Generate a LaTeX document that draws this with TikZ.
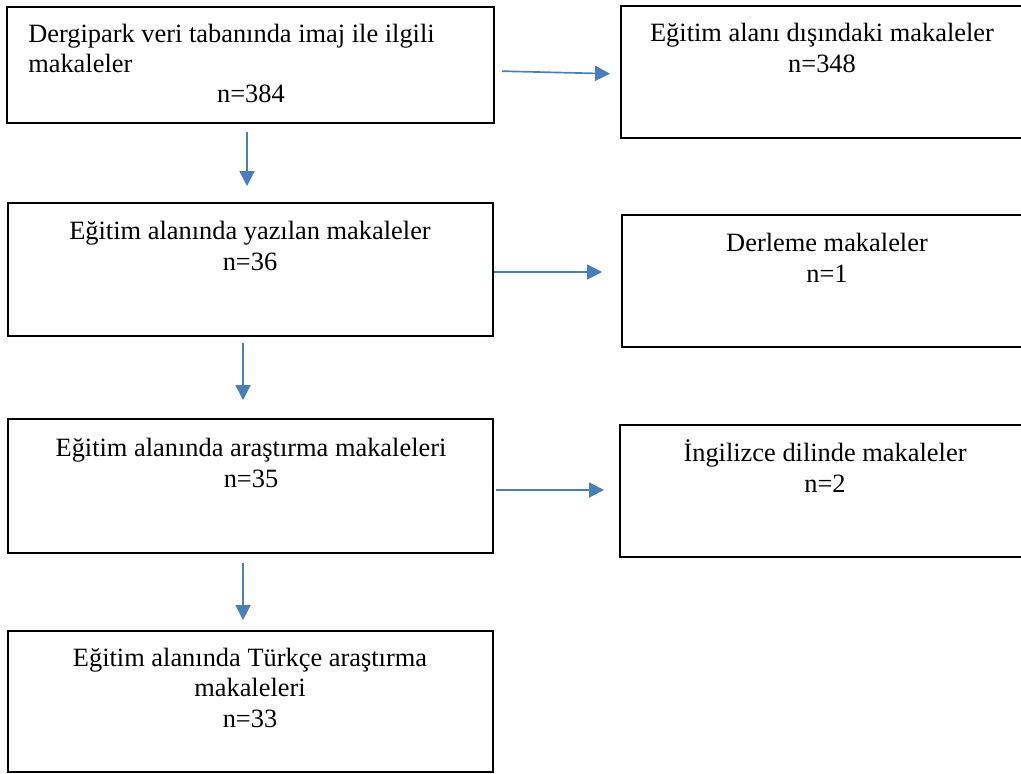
\documentclass[tikz,border=0pt]{standalone}
\usepackage{fontspec}
\setmainfont{Liberation Serif}
\usetikzlibrary{arrows.meta}
\definecolor{arrblue}{RGB}{74,126,187}
\tikzset{
  box/.style={draw=black, line width=1.4pt, rectangle, inner sep=0pt},
  txt/.style={inner sep=0pt, font=\fontsize{19.8}{23.2}\selectfont},
  arr/.style={draw=arrblue, line width=1.25pt, -{Triangle[length=11.25pt,width=11.25pt]}}
}
\begin{document}
\begin{tikzpicture}[x=0.75pt,y=-0.75pt]
\useasboundingbox (0,0) rectangle (1021,774);
\clip (0,0) rectangle (1021,774);
% boxes
\node[box, minimum width=365.25pt, minimum height=87pt]    (b1) at (250.5,65) {};
\node[box, minimum width=314.25pt, minimum height=99pt]    (b2) at (830.5,72) {};
\node[box, minimum width=363.75pt, minimum height=99.75pt] (b3) at (250.5,269.5) {};
\node[box, minimum width=313.5pt,  minimum height=99pt]    (b4) at (831,281) {};
\node[box, minimum width=363.75pt, minimum height=100.5pt] (b5) at (250.5,486) {};
\node[box, minimum width=315pt,    minimum height=99pt]    (b6) at (830,491) {};
\node[box, minimum width=363.75pt, minimum height=105.75pt] (b7) at (250.5,701.5) {};
% texts
\node[txt, anchor=base west] (t1a) at (28,43) {Dergipark veri tabanında imaj ile ilgili};
\node[txt, anchor=base west] (t1b) at (28,73) {makaleler};
\node[txt, anchor=base] (t1c) at (251,103) {n=384};
\node[txt, anchor=base] (t2a) at (822,42) {Eğitim alanı dışındaki makaleler};
\node[txt, anchor=base] (t2b) at (822,73) {n=348};
\node[txt, anchor=base] (t3a) at (250,239) {Eğitim alanında yazılan makaleler};
\node[txt, anchor=base] (t3b) at (250,270) {n=36};
\node[txt, anchor=base] (t4a) at (827,251) {Derleme makaleler};
\node[txt, anchor=base] (t4b) at (827,282) {n=1};
\node[txt, anchor=base] (t5a) at (251,456) {Eğitim alanında araştırma makaleleri};
\node[txt, anchor=base] (t5b) at (251,487) {n=35};
\node[txt, anchor=base] (t6a) at (825,461) {İngilizce dilinde makaleler};
\node[txt, anchor=base] (t6b) at (825,492) {n=2};
\node[txt, anchor=base] (t7a) at (250,666) {Eğitim alanında Türkçe araştırma};
\node[txt, anchor=base] (t7b) at (250,696) {makaleleri};
\node[txt, anchor=base] (t7c) at (250,727) {n=33};
% arrows
\draw[arr, shorten <=5.25pt, shorten >=7.5pt] ([yshift=-4.5pt]b1.east) -- ([yshift=-1.5pt]b2.west);
\draw[arr, shorten <=6pt, shorten >=12pt] ([xshift=-2.6pt]b1.south) -- ([xshift=-2.6pt]b3.north);
\draw[arr, shorten >=14.25pt] ([yshift=-1.9pt]b3.east) -- ([yshift=6.75pt]b4.west);
\draw[arr, shorten <=4.5pt, shorten >=13.5pt] ([xshift=-5.6pt]b3.south) -- ([xshift=-5.6pt]b5.north);
\draw[arr, shorten <=1.5pt, shorten >=11.25pt] ([yshift=-3pt]b5.east) -- ([yshift=0.75pt]b6.west);
\draw[arr, shorten <=6.75pt, shorten >=7.5pt] ([xshift=-5.6pt]b5.south) -- ([xshift=-5.6pt]b7.north);
\end{tikzpicture}
\end{document}
